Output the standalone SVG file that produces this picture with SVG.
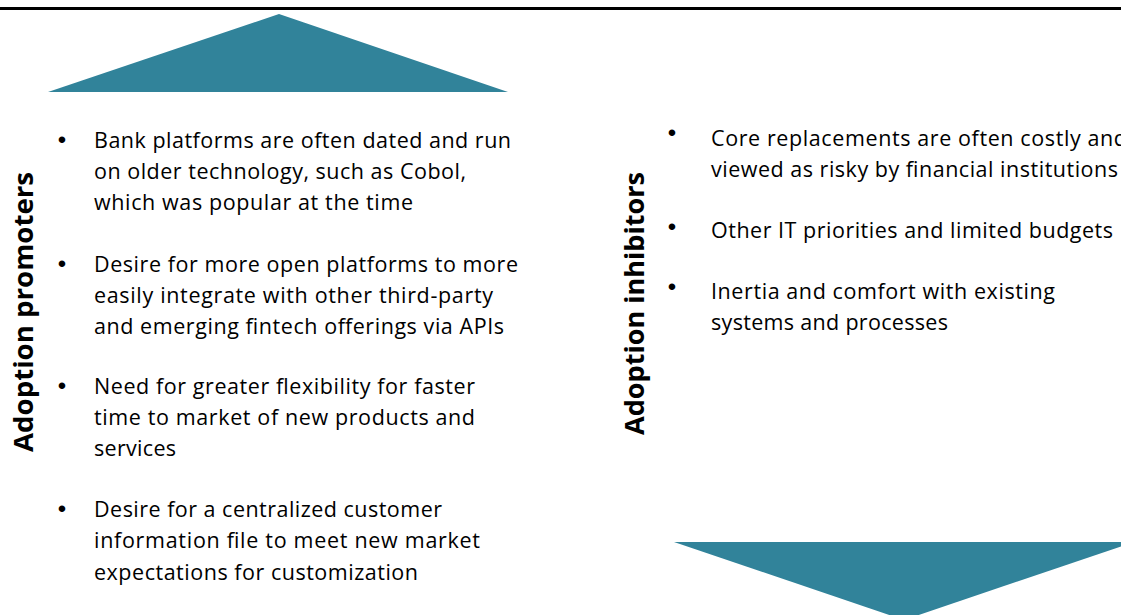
<svg xmlns="http://www.w3.org/2000/svg" width="1121" height="615" viewBox="0 0 1121 615">
<style>
.t{font-family:"Open Sans","Liberation Sans",sans-serif;font-size:21.5px;fill:#000}
.b{font-family:"Liberation Sans",sans-serif;font-size:24px;fill:#000;text-anchor:middle}
.h{font-family:"Open Sans","Liberation Sans",sans-serif;font-weight:bold;font-size:27px;fill:#000}
.tri{fill:#31839A}
</style>
<rect width="1121" height="615" fill="#fff"/>
<line x1="0" y1="8.5" x2="1121" y2="8.5" stroke="#000" stroke-width="3"/>
<g id="arrow-up"><polygon class="tri" points="48,92 279,14 508,92"/></g>
<g id="arrow-down"><polygon class="tri" points="674,542 1134,542 904,620"/></g>
<g id="promoters">
<text class="h" transform="translate(33,452) rotate(-90)" textLength="280" lengthAdjust="spacingAndGlyphs">Adoption promoters</text>
<text class="b" x="62" y="148">•</text>
<text class="t" x="94" y="148" textLength="417">Bank platforms are often dated and run</text>
<text class="t" x="94" y="179" textLength="372">on older technology, such as Cobol,</text>
<text class="t" x="94" y="210" textLength="319">which was popular at the time</text>
<text class="b" x="62" y="272">•</text>
<text class="t" x="94" y="272" textLength="424">Desire for more open platforms to more</text>
<text class="t" x="94" y="303" textLength="399">easily integrate with other third-party</text>
<text class="t" x="94" y="334" textLength="410">and emerging fintech offerings via APIs</text>
<text class="b" x="62" y="394">•</text>
<text class="t" x="94" y="394" textLength="381">Need for greater flexibility for faster</text>
<text class="t" x="94" y="425" textLength="381">time to market of new products and</text>
<text class="t" x="94" y="456" textLength="82">services</text>
<text class="b" x="62" y="517">•</text>
<text class="t" x="94" y="517" textLength="348">Desire for a centralized customer</text>
<text class="t" x="94" y="548" textLength="386">information file to meet new market</text>
<text class="t" x="94" y="580" textLength="324">expectations for customization</text>
</g>
<g id="inhibitors">
<text class="h" transform="translate(644,435) rotate(-90)" textLength="263" lengthAdjust="spacingAndGlyphs">Adoption inhibitors</text>
<text class="b" x="672" y="141">•</text>
<text class="t" x="711" y="146" textLength="416">Core replacements are often costly and</text>
<text class="t" x="711" y="177" textLength="407">viewed as risky by financial institutions</text>
<text class="b" x="672" y="235">•</text>
<text class="t" x="711" y="238" textLength="402">Other IT priorities and limited budgets</text>
<text class="b" x="672" y="295">•</text>
<text class="t" x="711" y="299" textLength="344">Inertia and comfort with existing</text>
<text class="t" x="711" y="330" textLength="237">systems and processes</text>
</g>
</svg>
